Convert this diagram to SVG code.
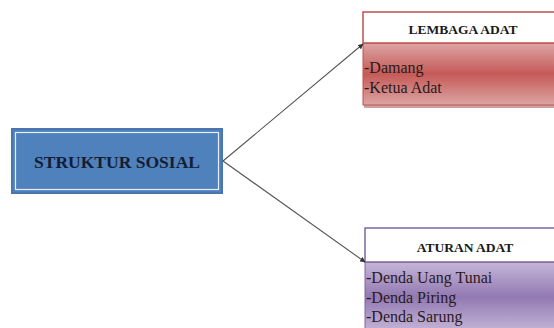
<svg xmlns="http://www.w3.org/2000/svg" width="554" height="328" viewBox="0 0 554 328">
<defs>
<style>
.hdr{font-family:"Liberation Serif","Times New Roman",serif;font-weight:bold;font-size:13.5px;fill:#1a1a1a}
.item{font-family:"Liberation Serif","Times New Roman",serif;font-size:16px;fill:#2a1a1a}
.conn{stroke:#555;stroke-width:1.1;fill:none;marker-end:url(#arr)}
</style>
<marker id="arr" viewBox="0 0 10 10" refX="9" refY="5" markerWidth="5" markerHeight="5" orient="auto">
<path d="M0,0 L10,5 L0,10 z" fill="#333"/>
</marker>
<linearGradient id="redg" x1="0" y1="0" x2="0" y2="1">
<stop offset="0" stop-color="#dca5a4"/>
<stop offset="0.5" stop-color="#c55a57"/>
<stop offset="1" stop-color="#dca5a4"/>
</linearGradient>
<linearGradient id="purg" x1="0" y1="0" x2="0" y2="1">
<stop offset="0" stop-color="#c5b6d8"/>
<stop offset="0.5" stop-color="#9279b2"/>
<stop offset="1" stop-color="#c5b6d8"/>
</linearGradient>
</defs>
<g id="struktur-sosial">
<rect x="12" y="129" width="210" height="64" fill="#4f81bd" stroke="#4a76ad" stroke-width="2"/>
<rect x="15.5" y="132.5" width="203" height="57" fill="none" stroke="#e8eef7" stroke-width="1.2"/>
<text x="117" y="168" text-anchor="middle" font-family="Liberation Serif,Times New Roman,serif" font-weight="bold" font-size="16" fill="#141d33" textLength="166" lengthAdjust="spacingAndGlyphs">STRUKTUR SOSIAL</text>
</g>
<g id="lembaga-adat">
<rect x="364" y="45" width="200" height="63" fill="#a04542" opacity="0.5"/>
<rect x="363" y="43" width="200" height="62" fill="url(#redg)" stroke="#c0504d" stroke-width="1"/>
<rect x="363" y="12" width="200" height="31" fill="#ffffff" stroke="#c0504d" stroke-width="1.5"/>
<text class="hdr" x="463" y="34" text-anchor="middle">LEMBAGA ADAT</text>
<text class="item" x="364" y="73" font-size="17.5">-Damang</text>
<text class="item" x="364" y="93" font-size="17.5">-Ketua Adat</text>
</g>
<g id="aturan-adat">
<rect x="365" y="262" width="200" height="70" fill="url(#purg)" stroke="#8064a2" stroke-width="1"/>
<rect x="365" y="228" width="200" height="34" fill="#ffffff" stroke="#8064a2" stroke-width="1.5"/>
<text class="hdr" x="465" y="252" text-anchor="middle">ATURAN ADAT</text>
<text class="item" x="366" y="283">-Denda Uang Tunai</text>
<text class="item" x="366" y="303">-Denda Piring</text>
<text class="item" x="366" y="322">-Denda Sarung</text>
</g>
<g id="connectors">
<line class="conn" x1="223" y1="161" x2="363" y2="44"/>
<line class="conn" x1="223" y1="161" x2="365" y2="262"/>
</g>
</svg>
